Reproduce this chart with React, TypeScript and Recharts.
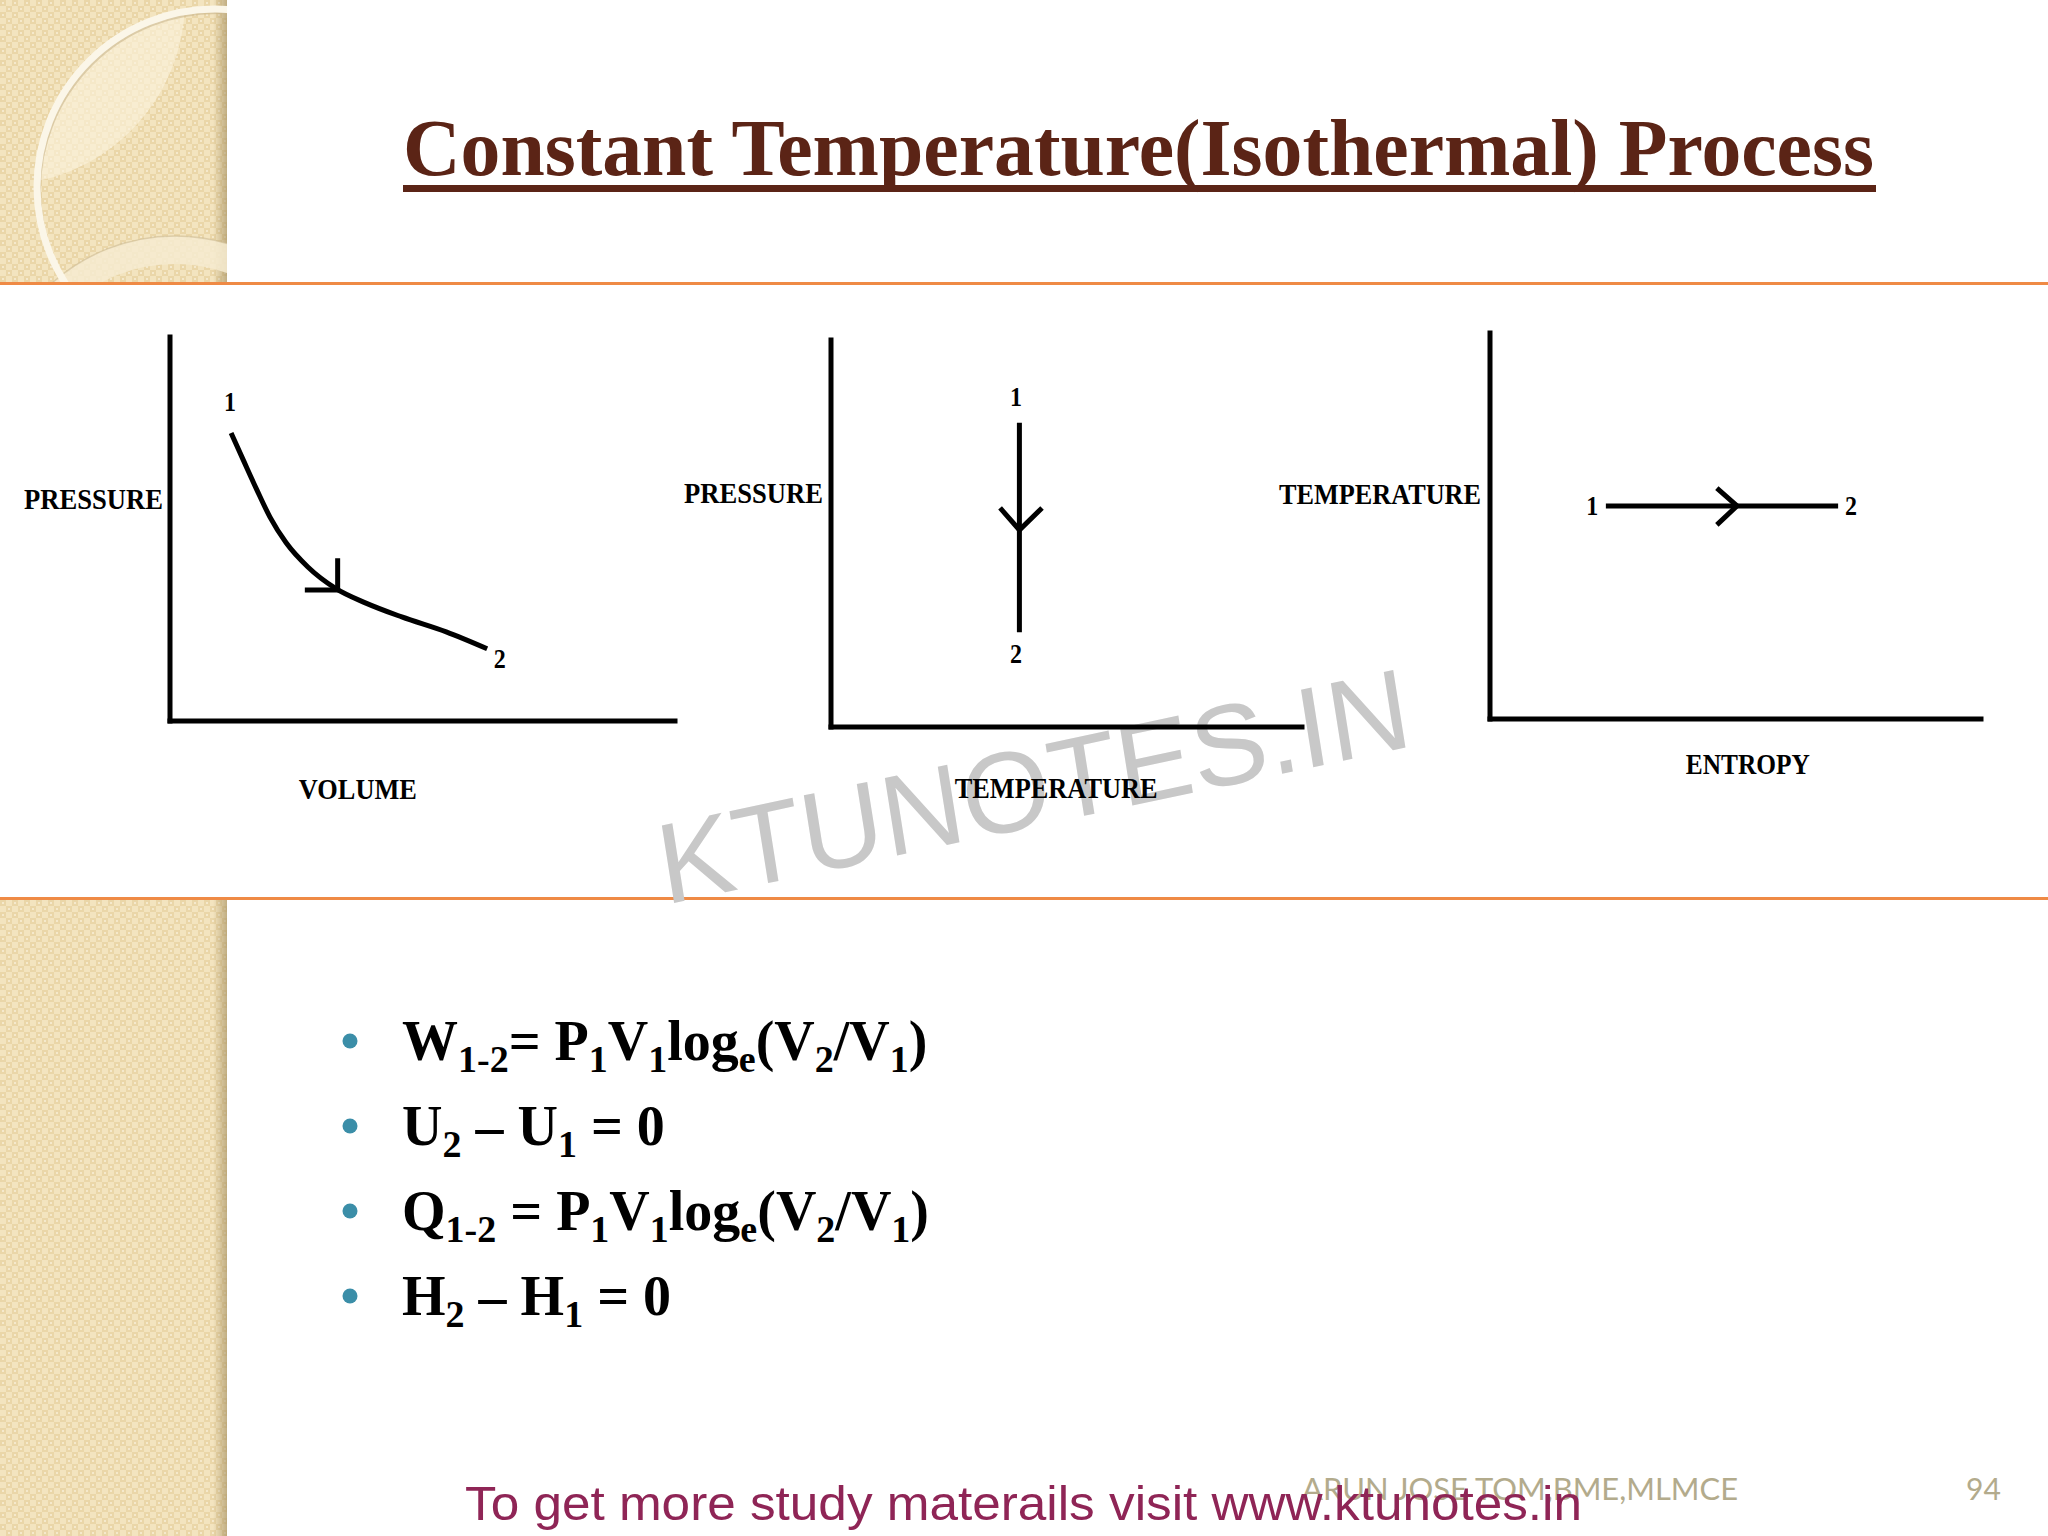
import React from 'react';
import { LineChart, Line, XAxis, YAxis, ReferenceDot } from 'recharts';

// ---- chart data (axes run 0..100 in both directions) ----
// P-V diagram: isothermal expansion curve 1 -> 2
const pvCurve = [
  { x: 12.1, y: 75.0 },
  { x: 14.5, y: 68.0 },
  { x: 17.2, y: 60.2 },
  { x: 19.8, y: 53.1 },
  { x: 23.0, y: 46.4 },
  { x: 27.3, y: 40.1 },
  { x: 32.7, y: 34.6 },
  { x: 38.8, y: 30.7 },
  { x: 45.9, y: 27.1 },
  { x: 54.7, y: 23.2 },
  { x: 62.8, y: 18.8 },
];
const pvArrow = [
  { x: 26.7, y: 34.1 },
  { x: 33.2, y: 34.1 },
  { x: 33.2, y: 42.4 },
];
const pvPoints = [
  { name: '1', x: 11.9, y: 83.1 },
  { name: '2', x: 65.3, y: 16.4 },
];

// P-T diagram: vertical line at constant temperature
const ptLine = [
  { x: 40, y: 78.6 },
  { x: 40, y: 24.5 },
];
const ptArrow = [
  { x: 35.9, y: 56.6 },
  { x: 40, y: 50.9 },
  { x: 44.8, y: 56.6 },
];
const ptPoints = [
  { name: '1', x: 39.3, y: 85.3 },
  { name: '2', x: 39.3, y: 19.1 },
];

// T-s diagram: horizontal line at constant temperature
const tsLine = [
  { x: 23.6, y: 55.2 },
  { x: 70.9, y: 55.2 },
];
const tsArrow = [
  { x: 46.2, y: 59.8 },
  { x: 50.3, y: 55.2 },
  { x: 46.2, y: 50.3 },
];
const tsPoints = [
  { name: '1', x: 20.8, y: 55.4 },
  { name: '2', x: 73.5, y: 55.4 },
];

const formulas = [
  [['W'], ['1-2', 's'], ['= P'], ['1', 's'], ['V'], ['1', 's'], ['log'], ['e', 's'], ['(V'], ['2', 's'], ['/V'], ['1', 's'], [')']],
  [['U'], ['2', 's'], [' – U'], ['1', 's'], [' = 0']],
  [['Q'], ['1-2', 's'], [' = P'], ['1', 's'], ['V'], ['1', 's'], ['log'], ['e', 's'], ['(V'], ['2', 's'], ['/V'], ['1', 's'], [')']],
  [['H'], ['2', 's'], [' – H'], ['1', 's'], [' = 0']],
];

const SERIF = '"Liberation Serif", "Times New Roman", serif';
const SANS = '"Liberation Sans", Arial, sans-serif';

const yTitle = (text: string, frac: number, gap: number, len: number) => (props: any) => {
  const vb = props.viewBox;
  return (
    <text
      x={vb.x + vb.width - gap}
      y={vb.y + vb.height * frac}
      textAnchor="end"
      dominantBaseline="central"
      fontFamily={SERIF}
      fontWeight={700}
      fontSize={30}
      fill="#000"
      textLength={len}
      lengthAdjust="spacingAndGlyphs"
    >
      {text}
    </text>
  );
};

const xTitle = (text: string, frac: number, drop: number, len: number) => (props: any) => {
  const vb = props.viewBox;
  return (
    <text
      x={vb.x + vb.width * frac}
      y={vb.y + drop}
      textAnchor="middle"
      dominantBaseline="central"
      fontFamily={SERIF}
      fontWeight={700}
      fontSize={30}
      fill="#000"
      textLength={len}
      lengthAdjust="spacingAndGlyphs"
    >
      {text}
    </text>
  );
};

const pointLabel = (text: string) => (props: any) => {
  const vb = props.viewBox;
  return (
    <text
      x={vb.x + vb.width / 2}
      y={vb.y + vb.height / 2}
      textAnchor="middle"
      dominantBaseline="central"
      fontFamily={SERIF}
      fontWeight={700}
      fontSize={28}
      fill="#000"
      textLength={12}
      lengthAdjust="spacingAndGlyphs"
    >
      {text}
    </text>
  );
};

interface DiagramProps {
  left: number;
  top: number;
  width: number;
  height: number;
  margin: { top: number; right: number; left: number; bottom: number };
  yWidth: number;
  xHeight: number;
  axisWidth: number;
  process: { x: number; y: number }[];
  arrow: { x: number; y: number }[];
  points: { name: string; x: number; y: number }[];
  curveType: 'monotone' | 'linear';
  yLabel: (p: any) => React.ReactElement;
  xLabel: (p: any) => React.ReactElement;
}

const Diagram: React.FC<DiagramProps> = (p) => (
  <div style={{ position: 'absolute', left: p.left, top: p.top, width: p.width, height: p.height }}>
    <LineChart width={p.width} height={p.height} margin={p.margin}>
      <XAxis
        type="number"
        dataKey="x"
        domain={[0, 100]}
        height={p.xHeight}
        tick={false}
        tickLine={false}
        axisLine={{ stroke: '#000', strokeWidth: p.axisWidth, strokeLinecap: 'square' } as any}
        label={p.xLabel}
      />
      <YAxis
        type="number"
        dataKey="y"
        domain={[0, 100]}
        width={p.yWidth}
        tick={false}
        tickLine={false}
        axisLine={{ stroke: '#000', strokeWidth: p.axisWidth, strokeLinecap: 'square' } as any}
        label={p.yLabel}
      />
      <Line
        data={p.process}
        dataKey="y"
        type={p.curveType}
        stroke="#000"
        strokeWidth={5}
        dot={false}
        activeDot={false}
        isAnimationActive={false}
      />
      <Line
        data={p.arrow}
        dataKey="y"
        type="linear"
        stroke="#000"
        strokeWidth={5}
        dot={false}
        activeDot={false}
        isAnimationActive={false}
      />
      {p.points.map((pt) => (
        <ReferenceDot key={pt.name} x={pt.x} y={pt.y} r={1} fill="none" stroke="none" label={pointLabel(pt.name)} />
      ))}
    </LineChart>
  </div>
);

const Formula: React.FC<{ parts: string[][]; baseline: number }> = ({ parts, baseline }) => {
  let shifted = false;
  return (
    <text x={402} y={baseline} fontFamily={SERIF} fontWeight={700} fontSize={56} fill="#000" style={{ whiteSpace: 'pre' }}>
      {parts.map((part, i) => {
        const isSub = part[1] === 's';
        let dy = 0;
        if (isSub && !shifted) { dy = 12; shifted = true; }
        else if (!isSub && shifted) { dy = -12; shifted = false; }
        return (
          <tspan key={i} dy={dy} fontSize={isSub ? 38 : 56}>
            {part[0]}
          </tspan>
        );
      })}
    </text>
  );
};

const Backdrop: React.FC = () => (
  <svg width={2048} height={1536} style={{ position: 'absolute', left: 0, top: 0 }}>
    <defs>
      <pattern id="weave" width={12} height={12} patternUnits="userSpaceOnUse">
        <rect width={12} height={12} fill="#f3e4bf" />
        <rect x={0} y={0} width={6} height={6} fill="#ead6a8" />
        <rect x={6} y={6} width={6} height={6} fill="#ead6a8" />
        <rect x={2} y={2} width={2} height={2} fill="#f5e9cc" />
        <rect x={8} y={8} width={2} height={2} fill="#f5e9cc" />
      </pattern>
      <linearGradient id="edge" x1="0" x2="1" y1="0" y2="0">
        <stop offset="0" stopColor="#a08a5a" stopOpacity={0} />
        <stop offset="1" stopColor="#a08a5a" stopOpacity={0.6} />
      </linearGradient>
      <clipPath id="topStrip">
        <rect x={0} y={0} width={227} height={282} />
      </clipPath>
      <clipPath id="bigCircle">
        <circle cx={215} cy={187} r={178} />
      </clipPath>
    </defs>

    {/* left decorative strip */}
    <rect x={0} y={0} width={227} height={282} fill="url(#weave)" />
    <rect x={0} y={899} width={227} height={637} fill="url(#weave)" />
    <rect x={213} y={0} width={14} height={282} fill="url(#edge)" />
    <rect x={213} y={899} width={14} height={637} fill="url(#edge)" />
    <g clipPath="url(#topStrip)">
      <g clipPath="url(#bigCircle)">
        <circle cx={0} cy={0} r={185} fill="#fbf3de" opacity={0.6} />
      </g>
      <circle cx={175} cy={420} r={170} fill="none" stroke="#f6ebd0" strokeWidth={28} opacity={0.85} />
      <circle cx={175} cy={420} r={184} fill="none" stroke="#cdbb92" strokeWidth={1.5} opacity={0.6} />
      <circle cx={217} cy={190} r={178} fill="none" stroke="#c9b68c" strokeWidth={4} opacity={0.6} />
      <circle cx={215} cy={187} r={178} fill="none" stroke="#fbf6e8" strokeWidth={7} />
    </g>

    {/* orange rules */}
    <rect x={0} y={282} width={2048} height={3} fill="#ef8a45" />
    <rect x={0} y={897} width={2048} height={3} fill="#ef8a45" />

    {/* watermark */}
    <text
      x={0}
      y={0}
      transform="translate(665,905) rotate(-12) skewX(-3)"
      fontFamily={SANS}
      fontSize={114}
      fill="#c8c8c8"
    >
      KTUNOTES.IN
    </text>

    {/* title */}
    <text x={403} y={175} fontFamily={SERIF} fontWeight={700} fontSize={80} fill="#5b2416" textLength={1471} lengthAdjust="spacingAndGlyphs">
      Constant Temperature(Isothermal) Process
    </text>
    <rect x={403} y={185} width={1473} height={7} fill="#5b2416" />

    {/* formulas */}
    {formulas.map((f, i) => (
      <g key={i}>
        <circle cx={350} cy={1041 + i * 85} r={7.5} fill="#3b8ea8" />
        <Formula parts={f} baseline={1060 + i * 85} />
      </g>
    ))}

    {/* footer */}
    <text x={1302} y={1500} fontFamily="Lato, sans-serif" fontSize={30} fill="#b3ab8c" textLength={436} lengthAdjust="spacingAndGlyphs">
      ARUN JOSE TOM,BME,MLMCE
    </text>
    <text x={1966} y={1500} fontFamily="Lato, sans-serif" fontSize={30} fill="#b3ab8c">
      94
    </text>
    <text x={465} y={1520} fontFamily={SANS} fontSize={48} fill="#8f2556" textLength={1117} lengthAdjust="spacingAndGlyphs">
      To get more study materails visit www.ktunotes.in
    </text>
  </svg>
);

export default function App() {
  return (
    <div style={{ position: 'absolute', left: 0, top: 0, width: 2048, height: 1536, background: '#fff', overflow: 'hidden' }}>
      <Backdrop />
      <Diagram
        left={0}
        top={300}
        width={700}
        height={520}
        margin={{ top: 37, right: 25, left: 20, bottom: 0 }}
        yWidth={150}
        xHeight={99}
        axisWidth={5}
        process={pvCurve}
        arrow={pvArrow}
        points={pvPoints}
        curveType="monotone"
        yLabel={yTitle('PRESSURE', 0.42, 7, 139)}
        xLabel={xTitle('VOLUME', 0.372, 67, 118)}
      />
      <Diagram
        left={660}
        top={300}
        width={680}
        height={520}
        margin={{ top: 40, right: 38, left: 20, bottom: 0 }}
        yWidth={151}
        xHeight={93}
        axisWidth={5}
        process={ptLine}
        arrow={ptArrow}
        points={ptPoints}
        curveType="linear"
        yLabel={yTitle('PRESSURE', 0.395, 8, 139)}
        xLabel={xTitle('TEMPERATURE', 0.478, 60, 203)}
      />
      <Diagram
        left={1260}
        top={300}
        width={760}
        height={520}
        margin={{ top: 33, right: 39, left: 20, bottom: 0 }}
        yWidth={210}
        xHeight={101}
        axisWidth={5}
        process={tsLine}
        arrow={tsArrow}
        points={tsPoints}
        curveType="linear"
        yLabel={yTitle('TEMPERATURE', 0.415, 9, 202)}
        xLabel={xTitle('ENTROPY', 0.525, 44, 124)}
      />
    </div>
  );
}
